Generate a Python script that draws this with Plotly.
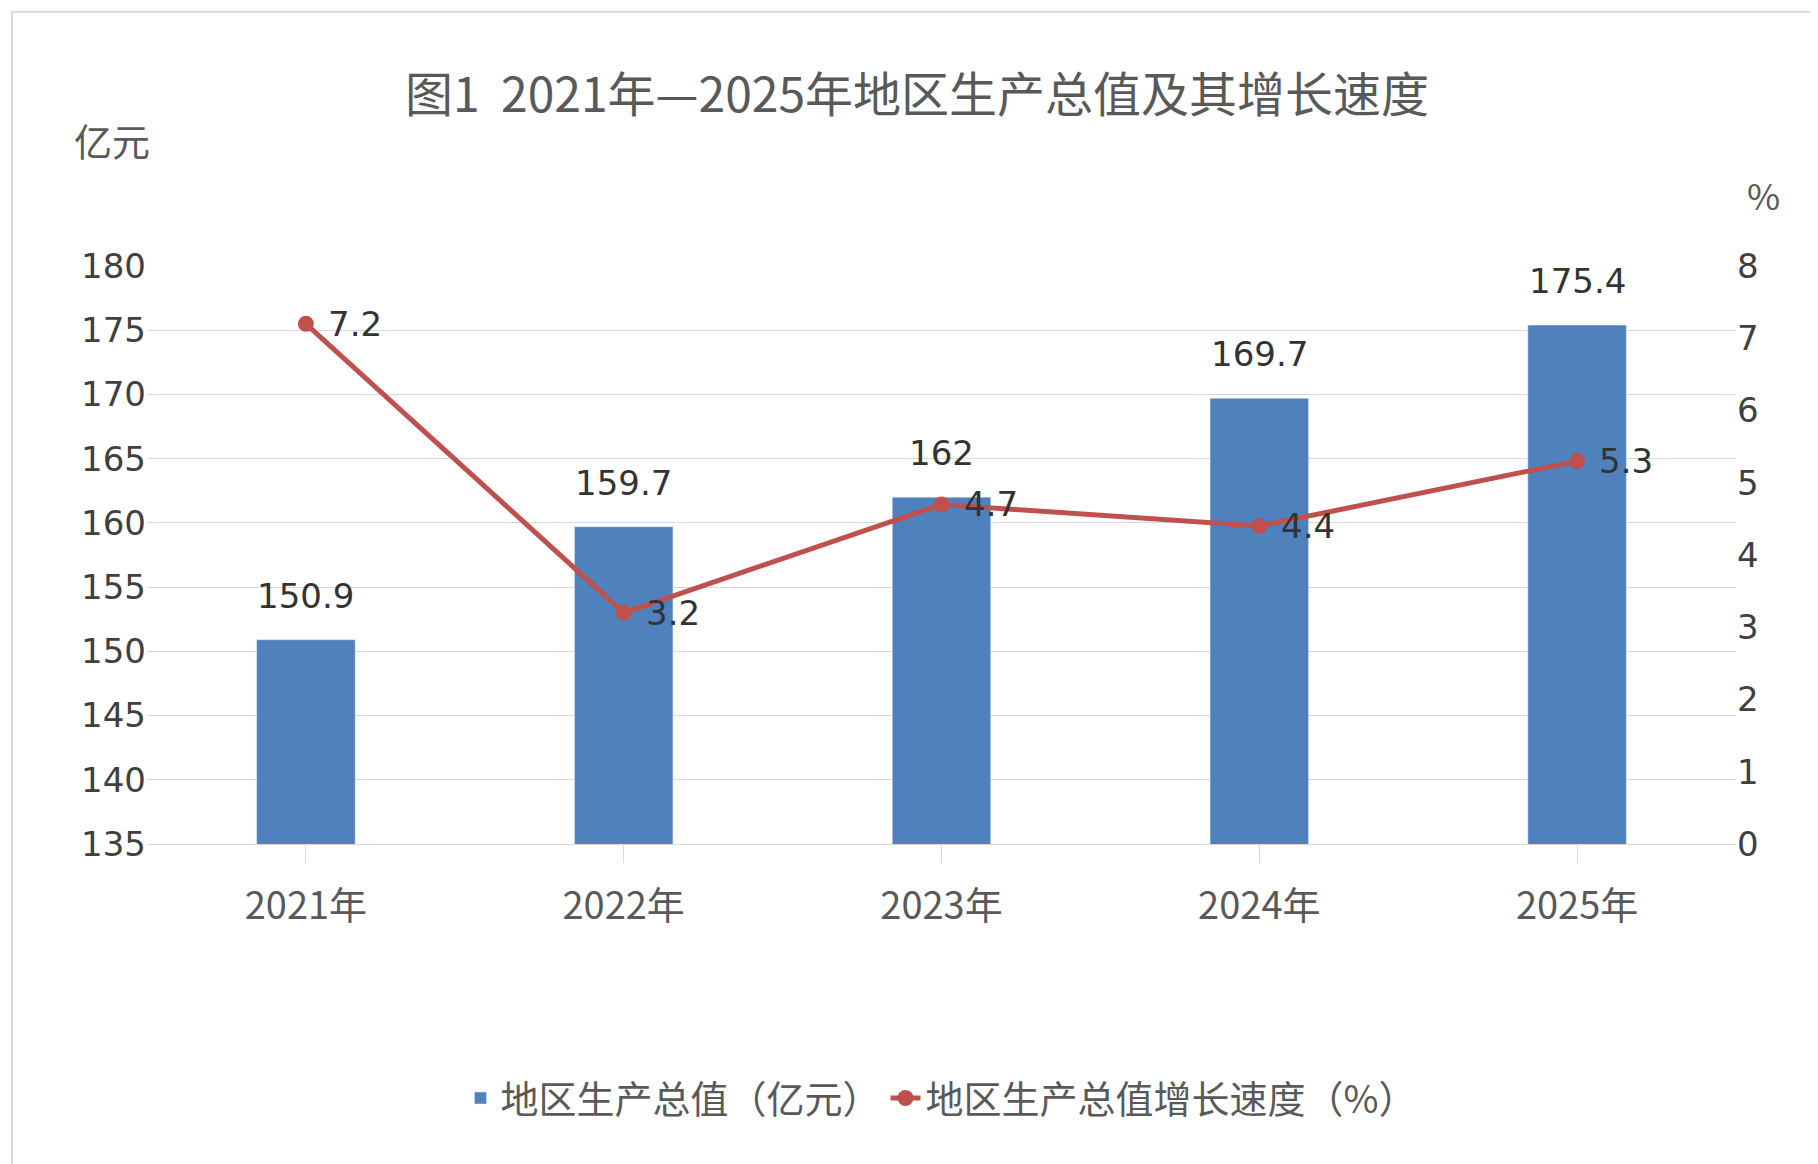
import plotly.graph_objects as go

years = ["2021年", "2022年", "2023年", "2024年", "2025年"]
gdp = [150.9, 159.7, 162, 169.7, 175.4]
growth = [7.2, 3.2, 4.7, 4.4, 5.3]
gdp_labels = ["150.9", "159.7", "162", "169.7", "175.4"]
growth_labels = ["7.2", "3.2", "4.7", "4.4", "5.3"]

font = "Noto Sans CJK SC"
lblfont = dict(size=34, color="#333333", family="DejaVu Sans")
fig = go.Figure()
fig.add_trace(go.Bar(x=years, y=gdp, name="地区生产总值（亿元）", marker_color="#4F81BD",
                     width=0.31))
fig.add_trace(go.Scatter(x=years, y=growth, name="地区生产总值增长速度（%）", yaxis="y2",
                         mode="lines+markers", line=dict(color="#C0504D", width=5),
                         marker=dict(size=16, color="#C0504D"), cliponaxis=False))
ann = []
for x, v, t in zip(years, gdp, gdp_labels):
    ann.append(dict(x=x, y=v, xref="x", yref="y", text=t, showarrow=False, yanchor="bottom",
                    yshift=22, font=lblfont))
for x, v, t in zip(years, growth, growth_labels):
    ann.append(dict(x=x, y=v, xref="x", yref="y2", text=t, showarrow=False, xanchor="left",
                    xshift=20, font=lblfont))
ann += [
    dict(text="亿元", xref="paper", yref="paper", x=-0.047, y=1.27, showarrow=False,
         font=dict(size=38, color="#595959")),
    dict(text="%", xref="paper", yref="paper", x=1.029, y=1.173, showarrow=False,
         font=dict(size=36, color="#595959")),
]
fig.update_layout(
    width=1818, height=1164, paper_bgcolor="white", plot_bgcolor="white",
    margin=dict(l=139, r=90, t=258, b=328),
    font=dict(family=font, color="#595959"),
    title=dict(text="图1  2021年—2025年地区生产总值及其增长速度", x=0.5, xanchor="center",
               y=0.925, yanchor="middle", font=dict(size=48, color="#595959")),
    xaxis=dict(showline=True, linecolor="#D9D9D9", ticks="outside", ticklen=18, tickcolor="#D9D9D9",
               tickfont=dict(size=38, color="#595959"), ticklabelstandoff=10),
    yaxis=dict(range=[135, 180], dtick=5, gridcolor="#D9D9D9", showline=False, zeroline=False,
               tickfont=dict(size=34, color="#404040", family="DejaVu Sans")),
    yaxis2=dict(range=[0, 8], dtick=1, overlaying="y", side="right", showgrid=False, zeroline=False,
                tickfont=dict(size=34, color="#404040", family="DejaVu Sans")),
    legend=dict(orientation="h", x=0.5, xanchor="center", y=-0.44, yanchor="middle",
                font=dict(size=38, color="#595959")),
    annotations=ann,
    shapes=[dict(type="rect", xref="paper", yref="paper", x0=-0.085, x1=1.055, y0=-0.562, y1=1.44,
                 line=dict(color="#D9D9D9", width=2), layer="below")],
)
fig.write_html("out.html")
